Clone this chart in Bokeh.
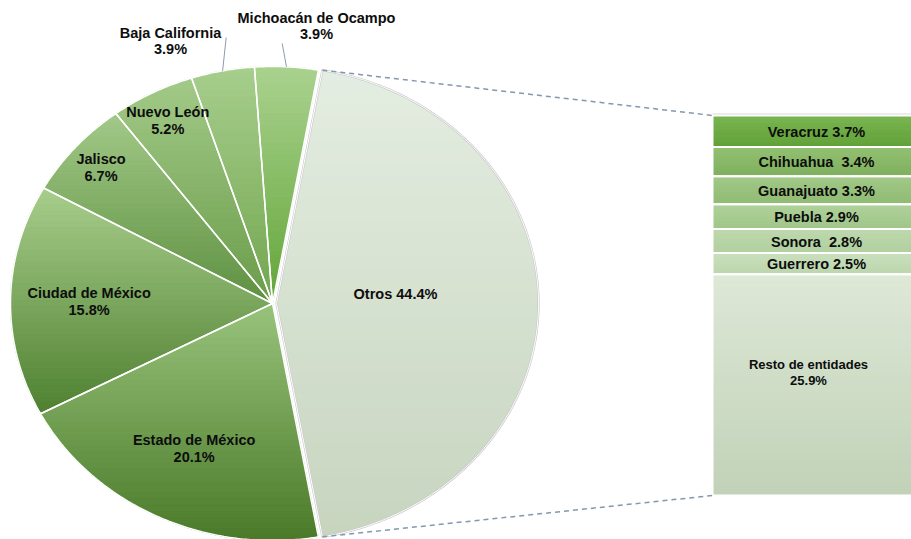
import numpy as np
from bokeh.plotting import figure
from bokeh.models import Range1d
from bokeh.embed import file_html
from bokeh.resources import INLINE
from bokeh.core.properties import value

# ---------------- data ----------------
pie_names = ["Otros", "Estado de México", "Ciudad de México", "Jalisco",
             "Nuevo León", "Baja California", "Michoacán de Ocampo"]
pie_values = [44.4, 20.1, 15.8, 6.7, 5.2, 3.9, 3.9]

bar_names = ["Veracruz", "Chihuahua", "Guanajuato", "Puebla", "Sonora",
             "Guerrero", "Resto de entidades"]
bar_values = [3.7, 3.4, 3.3, 2.9, 2.8, 2.5, 25.9]
bar_label_sep = [" ", "\u00a0 ", " ", " ", "\u00a0 ", " ", None]

# ---------------- styles / layout ----------------
pie_colors = [("#e4ede1", "#c7d5bf"),   # Otros
              ("#98c37b", "#4a7a29"),   # Estado de México
              ("#a8ce8c", "#4f8030"),   # Ciudad de México
              ("#a2c988", "#5e9040"),   # Jalisco
              ("#a2ca88", "#6a9c49"),   # Nuevo León
              ("#a7ce8d", "#72a64f"),   # Baja California
              ("#aad28f", "#63a539")]   # Michoacán
bar_colors = [("#7ab651", "#62a139"),
              ("#93c173", "#80b05e"),
              ("#a2c989", "#90bb73"),
              ("#afd19b", "#a1c789"),
              ("#bed9ae", "#b1d0a0"),
              ("#cae0be", "#bdd6ae"),
              ("#dde8d6", "#c1d2b8")]

W, H = 911, 539
CX, CY = 272.0, 303.0
RX, RY = 262.0, 237.0
EXPLODE = 4.0
BAR_X0, BAR_X1 = 712.0, 930.0
BAR_Y0, BAR_H = 115.0, 380.0
FONT = value("Liberation Sans")

p = figure(width=W, height=H, output_backend="svg", toolbar_location=None,
           x_range=Range1d(0, W), y_range=Range1d(H, 0),
           min_border=0, outline_line_color=None)
p.axis.visible = False
p.grid.visible = False
p.background_fill_color = "white"
p.border_fill_color = "white"


def hex2rgb(h):
    h = h.lstrip("#")
    return np.array([int(h[i:i + 2], 16) for i in (0, 2, 4)], dtype=float)


def lerp_color(c0, c1, t):
    a, b = hex2rgb(c0), hex2rgb(c1)
    c = a + (b - a) * t
    return "#%02x%02x%02x" % tuple(int(round(v)) for v in c)


def clip(poly, keep_above, yc):
    out = []
    n = len(poly)
    inside = (lambda q: q[1] >= yc) if keep_above else (lambda q: q[1] <= yc)
    for i in range(n):
        cur, prev = poly[i], poly[i - 1]
        if inside(cur):
            if not inside(prev):
                t = (yc - prev[1]) / (cur[1] - prev[1])
                out.append((prev[0] + t * (cur[0] - prev[0]), yc))
            out.append(cur)
        elif inside(prev):
            t = (yc - prev[1]) / (cur[1] - prev[1])
            out.append((prev[0] + t * (cur[0] - prev[0]), yc))
    return out


def gradient_patches(xs, ys, ctop, cbot, nb=40):
    poly = list(zip(xs, ys))
    y0, y1 = min(ys), max(ys)
    bx, by, bc = [], [], []
    edges = np.linspace(y0, y1, nb + 1)
    for i in range(nb):
        part = clip(poly, True, edges[i])
        part = clip(part, False, edges[i + 1])
        if len(part) < 3:
            continue
        bx.append([q[0] for q in part])
        by.append([q[1] for q in part])
        bc.append(lerp_color(ctop, cbot, (i + 0.5) / nb))
    p.patches(bx, by, fill_color=bc, line_color=bc, line_width=1)


def ell(cx, cy, th):
    r = np.radians(th)
    return cx + RX * np.sin(r), cy - RY * np.cos(r)


# ---------------- pie ----------------
total = sum(pie_values)
start = 90.0 - 360.0 * pie_values[0] / total / 2.0
angles = []
a = start
for v in pie_values:
    a1 = a + 360.0 * v / total
    angles.append((a, a1))
    a = a1

outlines_x, outlines_y = [], []
for i, (a0, a1) in enumerate(angles):
    cx = CX + (EXPLODE if i == 0 else 0.0)
    th = np.linspace(a0, a1, max(8, int((a1 - a0) * 2)))
    ex, ey = ell(cx, CY, th)
    xs = [cx] + list(ex)
    ys = [CY] + list(ey)
    gradient_patches(xs, ys, *pie_colors[i])
    outlines_x.append(xs)
    outlines_y.append(ys)

p.patches(outlines_x[1:], outlines_y[1:], fill_alpha=0, line_color="white", line_width=1.5)
p.patches(outlines_x[:1], outlines_y[:1], fill_alpha=0, line_color="#c9c9c9", line_width=2.2)
p.patches(outlines_x[:1], outlines_y[:1], fill_alpha=0, line_color="white", line_width=1.0)

# ---------------- bar (stack) ----------------
btot = sum(bar_values)
scale = BAR_H / btot
tops, bots = [], []
y = BAR_Y0
for v in bar_values:
    tops.append(y)
    y += v * scale
    bots.append(y)

for i in range(len(bar_values)):
    nb = 30
    e = np.linspace(tops[i], bots[i], nb + 1)
    cols = [lerp_color(bar_colors[i][0], bar_colors[i][1], (k + 0.5) / nb) for k in range(nb)]
    p.quad(left=BAR_X0, right=BAR_X1, top=list(e[:-1]), bottom=list(e[1:]),
           fill_color=cols, line_color=cols, line_width=1)
p.quad(left=BAR_X0, right=BAR_X1, top=tops, bottom=bots, fill_alpha=0,
       line_color="white", line_width=2)
p.segment(x0=[BAR_X0], y0=[BAR_Y0 - 1.5], x1=[BAR_X1], y1=[BAR_Y0 - 1.5],
          line_color="#d9d9d9", line_width=1)

# connector lines
oa0, oa1 = angles[0]
tx, ty = ell(CX + EXPLODE, CY, oa0)
bx_, by_ = ell(CX + EXPLODE, CY, oa1)
p.segment(x0=[tx, bx_], y0=[ty, by_], x1=[BAR_X0, BAR_X0], y1=[tops[0], bots[-1]],
          line_color="#8497b0", line_width=1.5, line_dash="5 4")

# ---------------- labels ----------------
txt = dict(text_font=FONT, text_font_style="bold", text_font_size="14.5px",
           text_color="#0d0d0d", text_align="center", text_baseline="middle")

# inside labels: slice index -> radial fraction
inside_frac = {1: 0.68, 2: 0.70, 3: 0.87, 4: 0.87}
lx, ly1, ly2, l1, l2 = [], [], [], [], []
for i, f in inside_frac.items():
    a0, a1 = angles[i]
    mid = np.radians((a0 + a1) / 2)
    x = CX + f * RX * np.sin(mid)
    yy = CY - f * RY * np.cos(mid)
    lx.append(x)
    ly1.append(yy - 8.5)
    ly2.append(yy + 8.5)
    l1.append(pie_names[i])
    l2.append("%.1f%%" % pie_values[i])
p.text(x=lx, y=ly1, text=l1, **txt)
p.text(x=lx, y=ly2, text=l2, **txt)

# Otros
p.text(x=[395], y=[293], text=["%s %.1f%%" % (pie_names[0], pie_values[0])], **txt)

# outside labels with leader lines
out_idx = [5, 6]
out_pos = [(170.0, 40.0), (316.0, 25.0)]
leader_end = [(225.7, 37.0), (281.7, 43.0)]
for i, (px, py), (ex_, ey_) in zip(out_idx, out_pos, leader_end):
    a0, a1 = angles[i]
    sx, sy = ell(CX, CY, (a0 + a1) / 2)
    p.segment(x0=[sx], y0=[sy], x1=[ex_], y1=[ey_], line_color="#8c9bb0", line_width=1)
    p.text(x=[px, px], y=[py - 8, py + 8],
           text=[pie_names[i], "%.1f%%" % pie_values[i]], **txt)

# bar labels
bcx = (BAR_X0 + 920.0) / 2
for i in range(len(bar_values) - 1):
    p.text(x=[bcx], y=[(tops[i] + bots[i]) / 2 + 0.5],
           text=["%s%s%.1f%%" % (bar_names[i], bar_label_sep[i], bar_values[i])], **txt)
rc = (tops[-1] + bots[-1]) / 2
small = dict(txt)
small["text_font_size"] = "13px"
p.text(x=[808, 808], y=[rc - 20, rc - 4],
       text=[bar_names[-1], "%.1f%%" % bar_values[-1]], **small)

open("out.html", "w").write(file_html(p, INLINE))
